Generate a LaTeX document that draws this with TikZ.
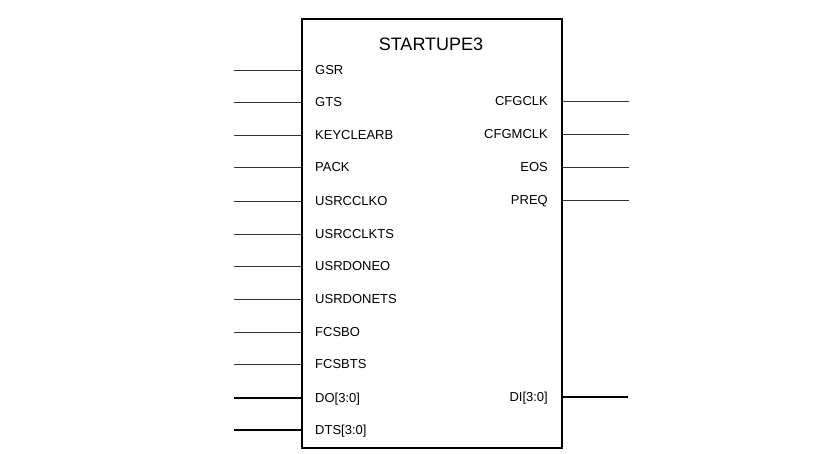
\documentclass[tikz,border=0pt]{standalone}
\usepackage{fontspec}
\setmainfont{Liberation Sans}
\usepackage{tikz}
\usetikzlibrary{positioning}

\begin{document}
\begin{tikzpicture}[
    x=1pt, y=-1pt,
    block/.style={draw, line width=1.6pt, anchor=north west, minimum width=260pt, minimum height=429pt, inner sep=0pt},
    wire/.style={line width=0.8pt, black!80},
    bus/.style={line width=2.2pt},
    pinin/.style={anchor=base west, inner sep=0pt, font=\fontsize{13}{15}\selectfont},
    pinout/.style={anchor=base east, inner sep=0pt, font=\fontsize{13}{15}\selectfont},
    title/.style={anchor=base, inner sep=0pt, font=\fontsize{18}{20}\selectfont}
]
    \useasboundingbox (0,0) rectangle (830,453);

    % The primitive itself
    \node[block] (startup) at (301,18) {};
    \node[title] (name) at (431,50) {STARTUPE3};

    % Input pins on the left side
    \foreach \pin/\y in {GSR/70, GTS/102, KEYCLEARB/135, PACK/167, USRCCLKO/201,
                         USRCCLKTS/234, USRDONEO/266, USRDONETS/299, FCSBO/332, FCSBTS/364} {
        \node[pinin] (in-\pin) at (315,\y+4.5) {\pin};
        \coordinate (in-\pin-end) at (234,\y);
        \draw[wire] (in-\pin-end) -- (in-\pin-end -| startup.west);
    }

    % Output pins on the right side
    \foreach \pin/\y in {CFGCLK/101, CFGMCLK/134, EOS/167, PREQ/200} {
        \node[pinout] (out-\pin) at (548,\y+4.5) {\pin};
        \coordinate (out-\pin-end) at (629,\y);
        \draw[wire] (out-\pin-end -| startup.east) -- (out-\pin-end);
    }

    % --- 4-bit buses ---
    \node[pinin] (in-do) at (315,402.5) {DO[3:0]};
    \coordinate (in-do-end) at (234,398);
    \draw[bus] (in-do-end) -- (in-do-end -| startup.west);

    \node[pinin] (in-dts) at (315,434.5) {DTS[3:0]};
    \coordinate (in-dts-end) at (234,430);
    \draw[bus] (in-dts-end) -- (in-dts-end -| startup.west);

    \node[pinout] (out-di) at (548,401.5) {DI[3:0]};
    \coordinate (out-di-end) at (628,397);
    \draw[bus] (out-di-end -| startup.east) -- (out-di-end);

\end{tikzpicture}
\end{document}
